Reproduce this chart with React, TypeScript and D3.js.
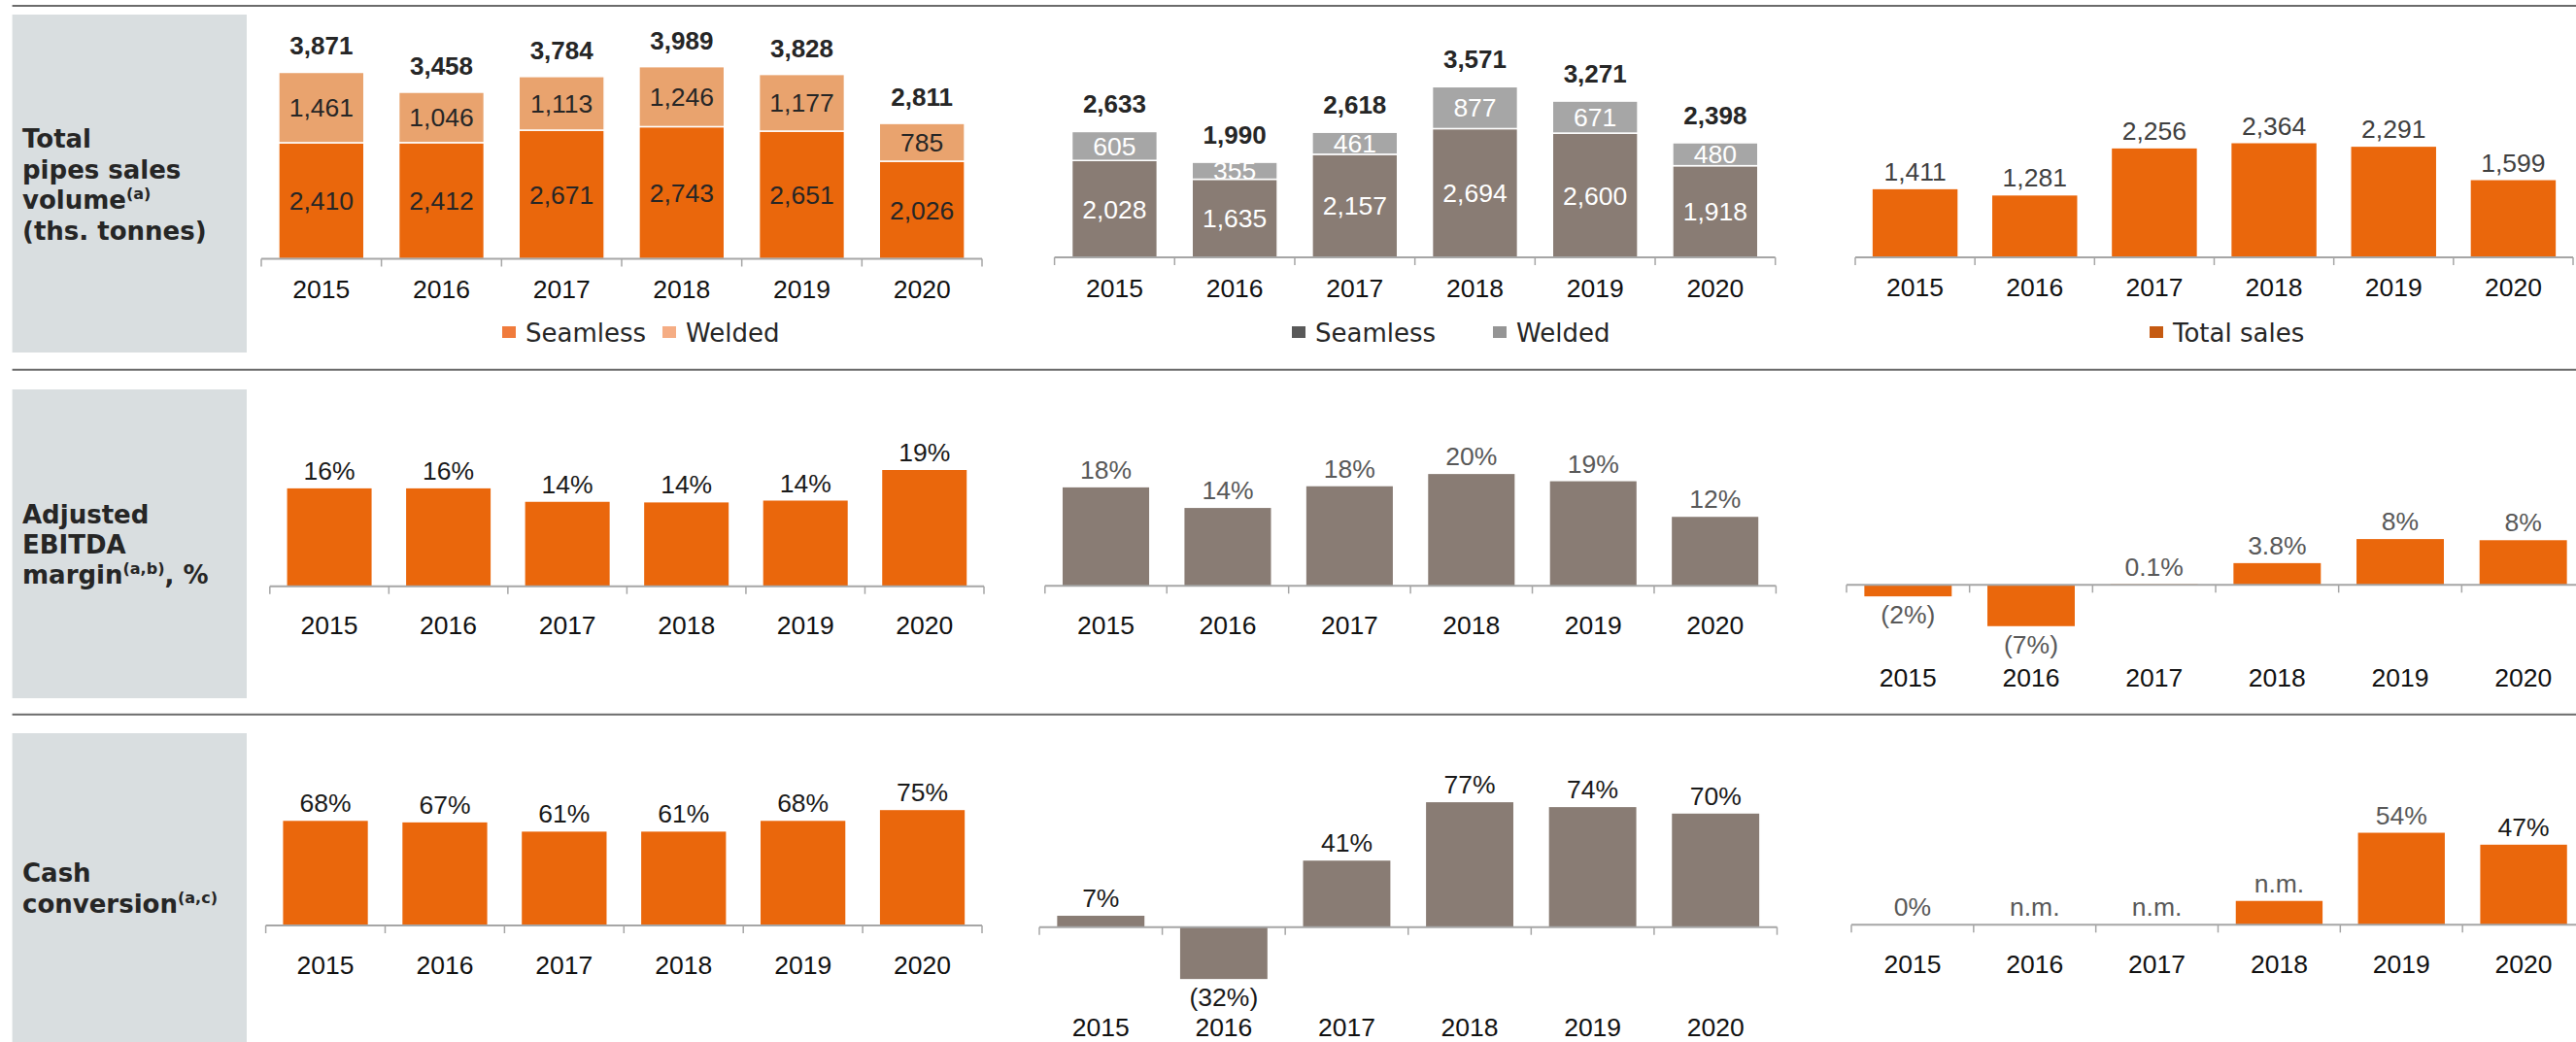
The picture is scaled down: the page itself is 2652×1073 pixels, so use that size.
import { useEffect, useRef } from 'react';
import * as d3 from 'd3';

const years = ['2015', '2016', '2017', '2018', '2019', '2020'];

// row 1: pipes sales volume, ths. tonnes
const tmkSeamless = [2410, 2412, 2671, 2743, 2651, 2026];
const tmkWelded = [1461, 1046, 1113, 1246, 1177, 785];
const peerSeamless = [2028, 1635, 2157, 2694, 2600, 1918];
const peerWelded = [605, 355, 461, 877, 671, 480];
const peer2Sales = [1411, 1281, 2256, 2364, 2291, 1599];

// row 2: adjusted EBITDA margin, %
const marginTmk = [16.0, 16.0, 13.8, 13.7, 14.0, 19.0];
const marginTmkLabels = ['16%', '16%', '14%', '14%', '14%', '19%'];
const marginPeer = [17.7, 14.0, 17.9, 20.1, 18.8, 12.4];
const marginPeerLabels = ['18%', '14%', '18%', '20%', '19%', '12%'];
const marginPeer2 = [-2.0, -7.2, 0.1, 3.8, 8.0, 7.8];
const marginPeer2Labels = ['(2%)', '(7%)', '0.1%', '3.8%', '8%', '8%'];

// row 3: cash conversion, %
const cashTmk = [68, 67, 61, 61, 68, 75];
const cashTmkLabels = ['68%', '67%', '61%', '61%', '68%', '75%'];
const cashPeer = [7, -32, 41, 77, 74, 70];
const cashPeerLabels = ['7%', '(32%)', '41%', '77%', '74%', '70%'];
const cashPeer2 = [0, null, null, 14, 54, 47];
const cashPeer2Labels = ['0%', 'n.m.', 'n.m.', 'n.m.', '54%', '47%'];

const ORANGE = '#EA670C';
const ORANGE_LIGHT = '#E9A36E';
const TAUPE = '#897C74';
const GREY = '#A6A6A6';
const NUM_FONT = '"Liberation Sans", Arial, sans-serif';
const TXT_FONT = '"DejaVu Sans", Verdana, sans-serif';

export default function App() {
  const svgRef = useRef(null);

  useEffect(() => {
    if (!svgRef.current) return;
    const width = 2652;
    const height = 1073;
    const svg = d3.select(svgRef.current);
    svg.selectAll('*').remove();
    svg.attr('width', width).attr('height', height);

    svg.append('rect').attr('width', width).attr('height', height).attr('fill', '#fff');

    // row separators and grey label boxes
    [6, 380.7, 735.7].forEach(y => {
      svg.append('line')
        .attr('x1', 12.6).attr('x2', width)
        .attr('y1', y).attr('y2', y)
        .attr('stroke', '#6b6b6b')
        .attr('stroke-width', 2);
    });
    [[15, 363], [401, 719], [755, 1073]].forEach(([y0, y1]) => {
      svg.append('rect')
        .attr('x', 12.6).attr('y', y0)
        .attr('width', 254 - 12.6).attr('height', y1 - y0)
        .attr('fill', '#D9DEE0');
    });

    const titles = [
      { y: 152, gap: 31.5, lines: [[['Total']], [['pipes sales']], [['volume'], ['(a)', 1]], [['(ths. tonnes)']]] },
      { y: 539, gap: 31, lines: [[['Adjusted']], [['EBITDA']], [['margin'], ['(a,b)', 1], [', %']]] },
      { y: 908, gap: 32, lines: [[['Cash']], [['conversion'], ['(a,c)', 1]]] }
    ];
    titles.forEach(tt => {
      tt.lines.forEach((parts, li) => {
        const text = svg.append('text')
          .attr('x', 23)
          .attr('y', tt.y + li * tt.gap)
          .attr('font-family', TXT_FONT)
          .attr('font-weight', 'bold')
          .attr('font-size', 26)
          .attr('fill', '#262626');
        let raised = false;
        parts.forEach(([t, sup]) => {
          const sp = text.append('tspan').text(t);
          if (sup) {
            sp.attr('font-size', 16).attr('dy', -10);
            raised = true;
          } else if (raised) {
            sp.attr('dy', 10);
            raised = false;
          }
        });
      });
    });

    const makeX = (r0, r1) => d3.scaleBand()
      .domain(years)
      .range([r0, r1])
      .paddingInner(0.29)
      .paddingOuter(0.145);

    // ppu = pixels per unit of value
    const makeY = (axisY, ppu) => d3.scaleLinear()
      .domain([0, 1])
      .range([axisY, axisY - ppu]);

    const drawAxis = (x, axisY, yearY) => {
      const [r0, r1] = x.range();
      const g = svg.append('g');
      g.append('line')
        .attr('x1', r0).attr('x2', r1)
        .attr('y1', axisY).attr('y2', axisY)
        .attr('stroke', GREY).attr('stroke-width', 2);
      d3.range(years.length + 1).forEach(i => {
        const tx = r0 + i * x.step();
        g.append('line')
          .attr('x1', tx).attr('x2', tx)
          .attr('y1', axisY).attr('y2', axisY + 8)
          .attr('stroke', GREY).attr('stroke-width', 1.5);
      });
      g.selectAll('text.year')
        .data(years)
        .join('text')
        .attr('class', 'year')
        .attr('x', d => x(d) + x.bandwidth() / 2)
        .attr('y', yearY)
        .attr('text-anchor', 'middle')
        .attr('font-family', NUM_FONT)
        .attr('font-size', 26.5)
        .attr('fill', '#111')
        .text(d => d);
    };

    const drawLegend = (items, y) => {
      items.forEach(it => {
        svg.append('rect')
          .attr('x', it.x).attr('y', y - 6)
          .attr('width', 14).attr('height', 12)
          .attr('fill', it.color);
        svg.append('text')
          .attr('x', it.x + 24)
          .attr('y', y + 10)
          .attr('font-family', TXT_FONT)
          .attr('font-size', 26)
          .attr('fill', '#262626')
          .text(it.label);
      });
    };

    const fmt = d3.format(',');

    const stacked = (cfg) => {
      const x = makeX(cfg.r0, cfg.r1);
      const y = makeY(cfg.axisY, cfg.ppu);
      const table = years.map((yr, i) => ({ year: yr, seamless: cfg.seamless[i], welded: cfg.welded[i] }));
      const series = d3.stack().keys(['seamless', 'welded'])(table);
      const g = svg.append('g');

      const layers = g.selectAll('g.layer')
        .data(series)
        .join('g')
        .attr('class', 'layer');

      layers.each(function(layer, li) {
        const lg = d3.select(this);
        lg.selectAll('rect')
          .data(layer)
          .join('rect')
          .attr('x', d => x(d.data.year))
          .attr('width', x.bandwidth())
          .attr('y', d => y(d[1]))
          .attr('height', d => y(d[0]) - y(d[1]))
          .attr('fill', cfg.colors[li])
          .attr('stroke', '#fff')
          .attr('stroke-width', 1.5);
        lg.selectAll('text')
          .data(layer)
          .join('text')
          .attr('x', d => x(d.data.year) + x.bandwidth() / 2)
          .attr('y', d => (y(d[0]) + y(d[1])) / 2 + 9.5)
          .attr('text-anchor', 'middle')
          .attr('font-family', NUM_FONT)
          .attr('font-size', 26.5)
          .attr('fill', cfg.inner)
          .text(d => fmt(d[1] - d[0]));
      });

      g.selectAll('text.total')
        .data(series[1])
        .join('text')
        .attr('class', 'total')
        .attr('x', d => x(d.data.year) + x.bandwidth() / 2)
        .attr('y', d => y(d[1]) - cfg.totalGap)
        .attr('text-anchor', 'middle')
        .attr('font-family', NUM_FONT)
        .attr('font-weight', 'bold')
        .attr('font-size', 26)
        .attr('fill', '#262626')
        .text(d => fmt(d[1]));

      drawAxis(x, cfg.axisY, cfg.yearY);
    };

    const simple = (cfg) => {
      const x = makeX(cfg.r0, cfg.r1);
      const y = makeY(cfg.axisY, cfg.ppu);
      const table = years.map((yr, i) => ({ year: yr, v: cfg.values[i], label: cfg.labels[i], i }));
      const g = svg.append('g');

      g.selectAll('rect')
        .data(table.filter(d => d.v !== null))
        .join('rect')
        .attr('x', d => x(d.year))
        .attr('width', x.bandwidth())
        .attr('y', d => Math.min(y(d.v), y(0)))
        .attr('height', d => Math.abs(y(d.v) - y(0)))
        .attr('fill', cfg.color);

      g.selectAll('text')
        .data(table)
        .join('text')
        .attr('x', d => x(d.year) + x.bandwidth() / 2)
        .attr('y', d => {
          const v = d.v === null ? 0 : d.v;
          return v < 0 ? y(v) + 28 : y(v) - 9;
        })
        .attr('text-anchor', 'middle')
        .attr('font-family', NUM_FONT)
        .attr('font-size', 26.5)
        .attr('fill', d => (cfg.darkIndex === d.i ? '#1a1a1a' : cfg.labelColor))
        .text(d => d.label);

      drawAxis(x, cfg.axisY, cfg.yearY);
    };

    // row 1
    stacked({
      r0: 269, r1: 1011, axisY: 266.5, ppu: 0.0496, yearY: 307, totalGap: 18,
      seamless: tmkSeamless, welded: tmkWelded,
      colors: [ORANGE, ORANGE_LIGHT], inner: '#262626'
    });
    stacked({
      r0: 1085.6, r1: 1827.7, axisY: 265, ppu: 0.0492, yearY: 306, totalGap: 19,
      seamless: peerSeamless, welded: peerWelded,
      colors: [TAUPE, GREY], inner: '#fff'
    });
    simple({
      r0: 1910, r1: 2649, axisY: 265, ppu: 0.0497, yearY: 305,
      values: peer2Sales, labels: peer2Sales.map(fmt),
      color: ORANGE, labelColor: '#404040'
    });
    drawLegend([
      { x: 517, color: '#F07B3C', label: 'Seamless' },
      { x: 682, color: '#F5AD84', label: 'Welded' }
    ], 342);
    drawLegend([
      { x: 1330, color: '#595959', label: 'Seamless' },
      { x: 1537, color: '#959595', label: 'Welded' }
    ], 342);
    drawLegend([
      { x: 2213, color: '#C55A11', label: 'Total sales' }
    ], 342);

    // row 2
    simple({
      r0: 277.8, r1: 1013, axisY: 603.7, ppu: 6.3, yearY: 652.5,
      values: marginTmk, labels: marginTmkLabels, color: ORANGE, labelColor: '#1a1a1a'
    });
    simple({
      r0: 1075.8, r1: 1828.4, axisY: 603.3, ppu: 5.73, yearY: 652.5,
      values: marginPeer, labels: marginPeerLabels, color: TAUPE, labelColor: '#595959'
    });
    simple({
      r0: 1901, r1: 2661, axisY: 602.3, ppu: 5.9, yearY: 707,
      values: marginPeer2, labels: marginPeer2Labels, color: ORANGE, labelColor: '#595959'
    });

    // row 3
    simple({
      r0: 273.6, r1: 1011, axisY: 953, ppu: 1.584, yearY: 1002.5,
      values: cashTmk, labels: cashTmkLabels, color: ORANGE, labelColor: '#1a1a1a'
    });
    simple({
      r0: 1070, r1: 1829.5, axisY: 954.7, ppu: 1.67, yearY: 1066.5,
      values: cashPeer, labels: cashPeerLabels, color: TAUPE, labelColor: '#1a1a1a'
    });
    simple({
      r0: 1906, r1: 2661, axisY: 952.3, ppu: 1.755, yearY: 1001.5,
      values: cashPeer2, labels: cashPeer2Labels, color: ORANGE, labelColor: '#595959', darkIndex: 5
    });
  }, []);

  return (
    <svg
      ref={svgRef}
      style={{ position: 'absolute', left: 0, top: 0, display: 'block' }}
    />
  );
}
